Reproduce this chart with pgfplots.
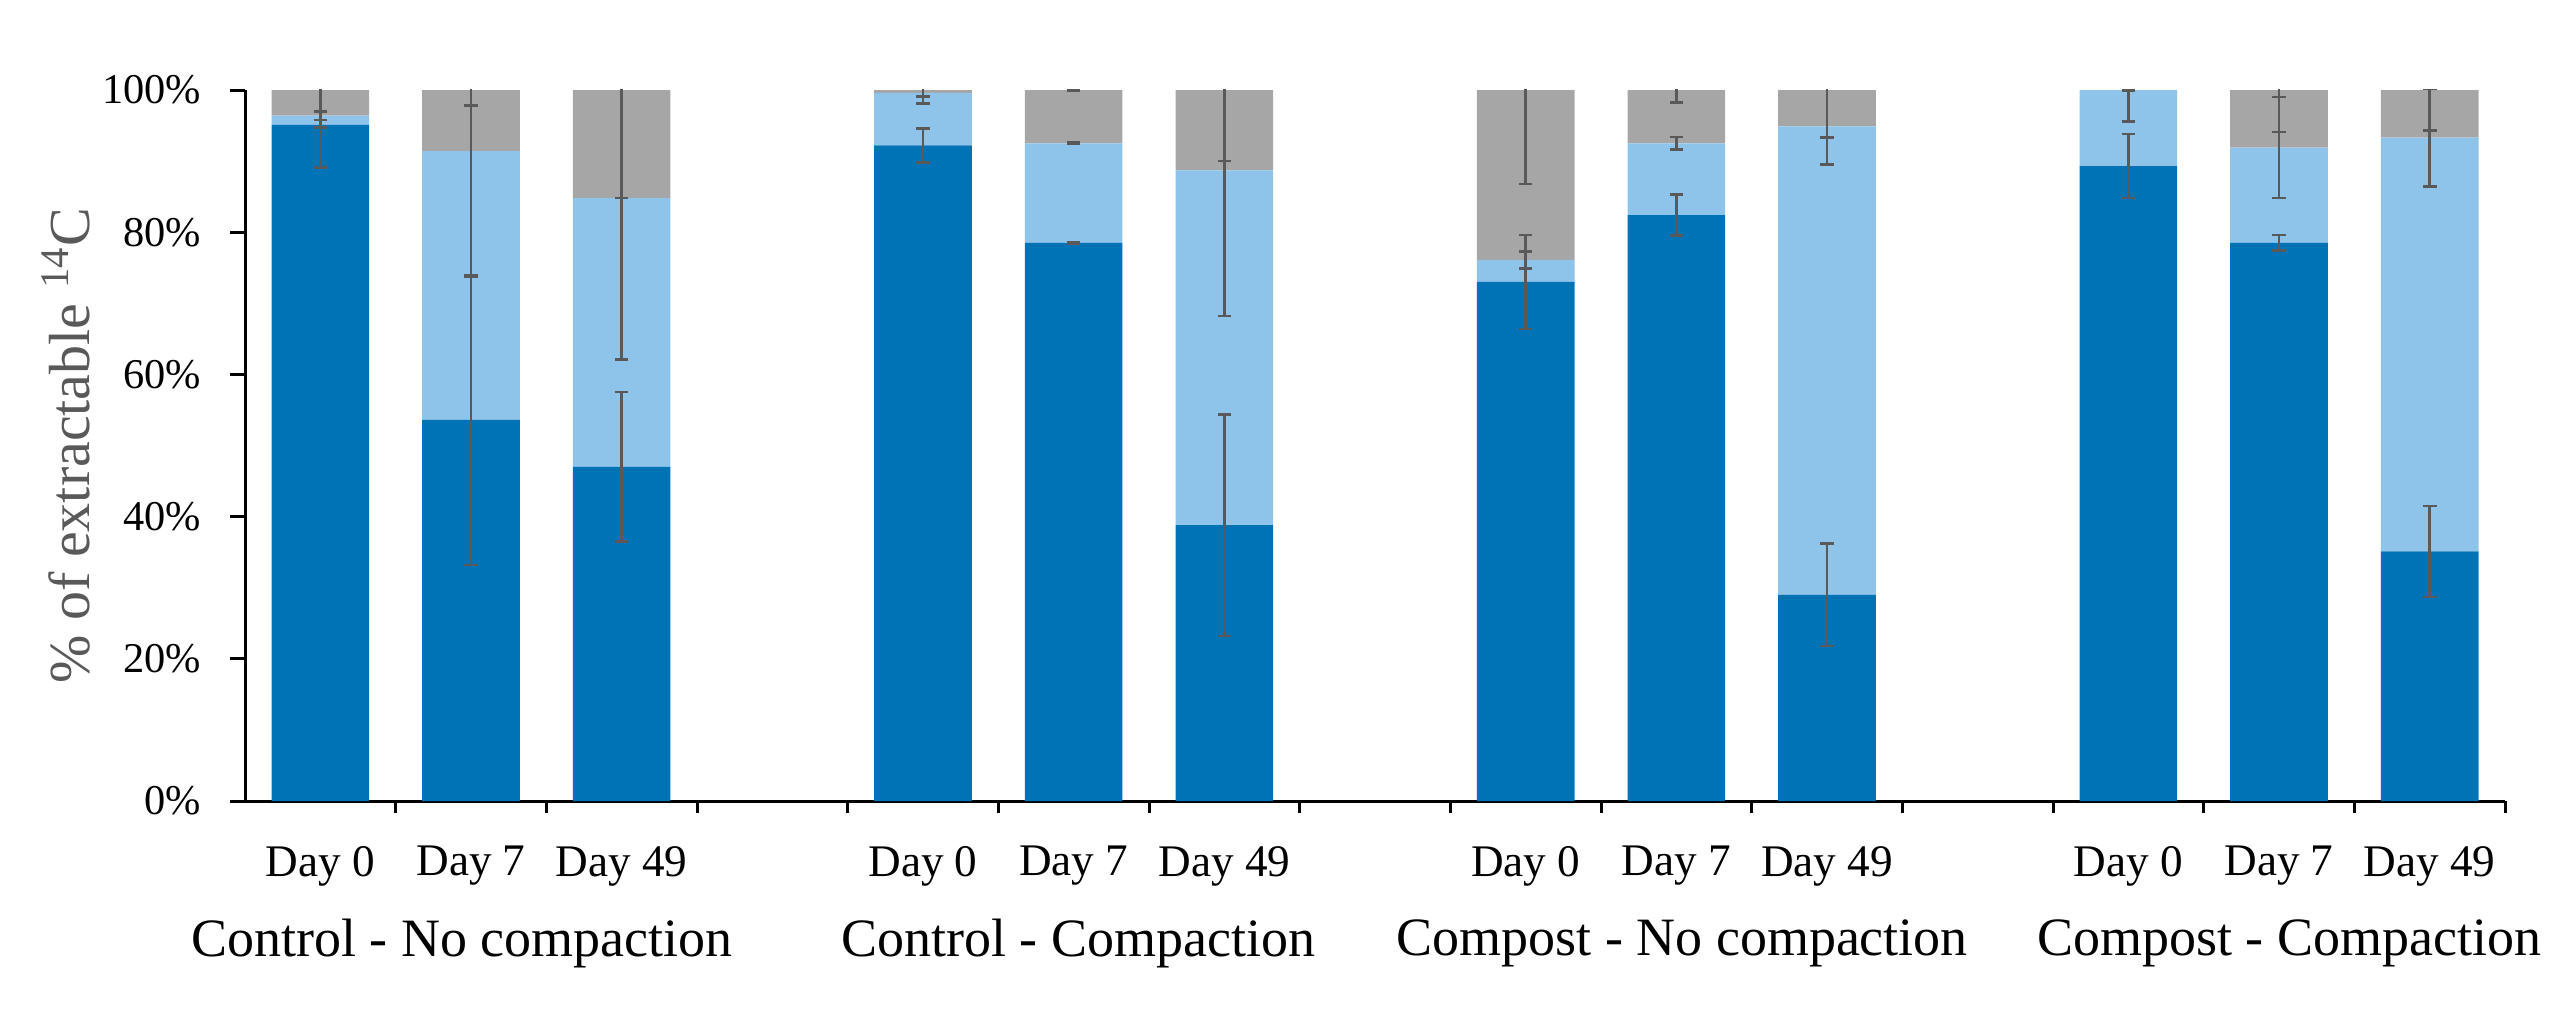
\documentclass[border=0pt]{standalone}
\usepackage{fontspec}
\setmainfont{Liberation Serif}
\usepackage{pgfplots}
\pgfplotsset{compat=1.18}
\usepackage{pgfplotstable}

\definecolor{darkbl}{RGB}{0,115,183}
\definecolor{lightbl}{RGB}{142,196,233}
\definecolor{grayseg}{RGB}{166,166,166}
\definecolor{errc}{RGB}{89,89,89}

% segment heights (stacked), x = slot index
\pgfplotstableread{
x  dark  light  gray
0  95.1  1.3   3.6
1  53.6  37.8  8.6
2  47.0  37.8  15.2
4  92.2  7.4   0.4
5  78.5  14.0  7.5
6  38.8  49.9  11.3
8  73.0  3.1   23.9
9  82.4  10.1  7.5
10 29.0  65.9  5.1
12 89.3  10.7  0.0
13 78.5  13.4  8.1
14 35.1  58.2  6.7
}\segs

% error bars at cumulative tops
\pgfplotstableread{
x  y     e
0  95.1  6.0
1  53.6  20.4
2  47.0  10.5
4  92.2  2.4
5  78.5  0.1
6  38.8  15.6
8  73.0  6.6
9  82.4  2.9
10 29.0  7.2
12 89.3  4.5
13 78.5  1.1
14 35.1  6.4
0  96.4  0.6
1  91.4  17.7
2  84.8  22.7
4  99.6  1.5
5  92.5  0.1
6  88.7  20.5
8  76.1  1.2
9  92.5  0.9
10 94.9  5.4
12 100   4.4
13 91.9  7.1
14 93.3  6.9
0  100   5.3
1  100   2.2
2  100   15.2
4  100   0.9
5  100   0.1
6  100   10.0
8  100   13.2
9  100   1.8
10 100   6.7
12 100   0.05
13 100   5.9
14 100   5.7
}\errs

\begin{document}
\begin{tikzpicture}
\useasboundingbox (-61.25pt,-52pt) rectangle (580.25pt,200.25pt);
\pgfplotsset{base/.style={
  width=565pt, height=177.75pt, scale only axis,
  xmin=-0.5, xmax=14.5, ymin=0, ymax=100,
  at={(0,0)}, anchor=south west}}
\begin{axis}[base,
  ybar stacked, bar width=0.648,
  axis lines*=left,
  axis line style={black, line width=0.75pt},
  tick align=outside,
  major tick length=3.75pt,
  minor tick length=3pt,
  tick style={black, line width=0.75pt},
  ytick={0,20,40,60,80,100},
  yticklabels={0\%,20\%,40\%,60\%,80\%,100\%},
  yticklabel style={font=\fontsize{10.6}{12}\selectfont, xshift=-3.7pt},
  xtick={0,1,2,4,5,6,8,9,10,12,13,14},
  xticklabels={Day 0,Day 7,Day 49,Day 0,Day 7,Day 49,Day 0,Day 7,Day 49,Day 0,Day 7,Day 49},
  xticklabel style={font=\fontsize{11.3}{13}\selectfont, yshift=-4pt},
  major x tick style={draw=none},
  minor xtick={0.5,1.5,...,14.5},
  ylabel={\% of extractable \textsuperscript{14}C},
  ylabel style={font=\fontsize{14.5}{16}\selectfont, color=errc,
    at={(axis description cs:-0.0792,0.5)}, anchor=center},
]
\addplot[fill=darkbl, draw=none] table[x=x, y=dark] {\segs};
\addplot[fill=lightbl, draw=none] table[x=x, y=light] {\segs};
\addplot[fill=grayseg, draw=none] table[x=x, y=gray] {\segs};
\end{axis}
\begin{axis}[base, hide axis]
\addplot[draw=none, mark=none,
  error bars/.cd, y dir=both, y explicit,
  error bar style={draw=errc, line width=0.65pt},
  error mark options={rotate=90, draw=errc, mark size=1.7pt, line width=0.65pt}]
  table[x=x, y=y, y error=e] {\errs};
\end{axis}
\begin{scope}[font=\fontsize{13.5}{15}\selectfont]
\node at (54.2pt,-35.5pt) {Control - No compaction};
\node at (208.3pt,-35.5pt) {Control - Compaction};
\node at (359.3pt,-35.5pt) {Compost - No compaction};
\node at (511pt,-35.5pt) {Compost - Compaction};
\end{scope}
\end{tikzpicture}
\end{document}
